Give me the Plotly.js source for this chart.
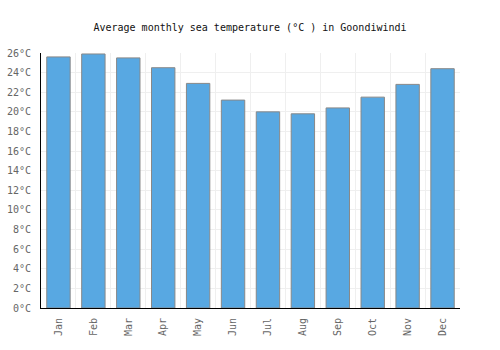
<!DOCTYPE html>
<html><head><meta charset="utf-8">
<script src="https://cdn.plot.ly/plotly-3.0.1.min.js"></script>
<style>html,body{margin:0;padding:0;background:#fff}#chart{width:500px;height:350px}</style>
</head><body><div id="chart"></div>
<script>
const months = ["Jan","Feb","Mar","Apr","May","Jun","Jul","Aug","Sep","Oct","Nov","Dec"];
const seaTemp = [25.6, 25.9, 25.5, 24.5, 22.9, 21.2, 20.0, 19.8, 20.4, 21.5, 22.8, 24.4];
const yTicks = [0,2,4,6,8,10,12,14,16,18,20,22,24,26];
const yTickText = yTicks.map(v => v + "°C");

const font = "DejaVu Sans Mono, monospace";
Plotly.newPlot("chart", [{
  type: "bar",
  x: months,
  y: seaTemp,
  width: 0.67,
  marker: {color: "#58a8e2", line: {color: "#888888", width: 1}},
  hoverinfo: "skip"
}], {
  width: 500, height: 350,
  margin: {l: 41, r: 40, t: 53, b: 42},
  paper_bgcolor: "#ffffff", plot_bgcolor: "#ffffff",
  title: {text: "Average monthly sea temperature (°C ) in Goondiwindi", font: {family: font, size: 10, color: "#111"}, x: 0.5, xanchor: "center", y: 0.922, yanchor: "middle"},
  showlegend: false,
  xaxis: {
    type: "category", tickson: "boundaries", showgrid: true, gridcolor: "#efefef", gridwidth: 1,
    showline: true, linecolor: "#000", linewidth: 1, ticks: "", tickangle: -90,
    tickfont: {family: font, size: 10, color: "#666"}, ticklabelstandoff: 5,
    fixedrange: true
  },
  yaxis: {
    range: [0, 26], tickvals: yTicks, ticktext: yTickText, showgrid: true, gridcolor: "#efefef",
    showline: true, linecolor: "#000", linewidth: 1, ticks: "", zeroline: false,
    tickfont: {family: font, size: 10, color: "#666"}, ticklabelstandoff: 7,
    fixedrange: true
  }
}, {staticPlot: true, displayModeBar: false});
</script></body></html>
